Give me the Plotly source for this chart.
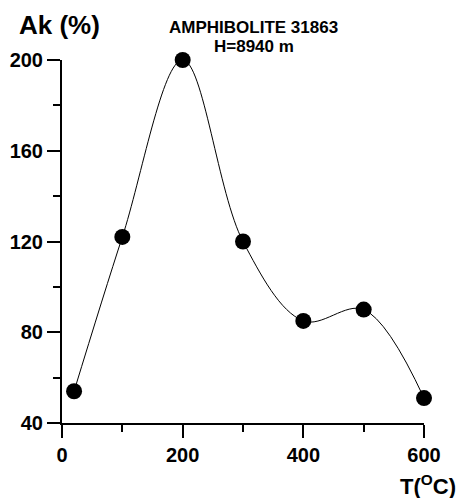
import plotly.graph_objects as go

temps = [20, 100, 200, 300, 400, 500, 600]
ak_values = [54, 122, 200, 120, 85, 90, 51]
x_ticks = [0, 200, 400, 600]
y_ticks = [40, 80, 120, 160, 200]

FONT = "Liberation Sans, Arial, sans-serif"

W, H = 462, 498
L, R, T, B = 62, 38, 60, 75
PW, PH = W - L - R, H - T - B


def px(xs, ys):
    return (xs - L) / PW, 1 - (ys - T) / PH


fig = go.Figure()
fig.add_trace(go.Scatter(
    x=temps, y=ak_values, mode="lines+markers",
    line=dict(shape="spline", smoothing=1.0, color="black", width=1),
    marker=dict(size=16, color="black"),
    cliponaxis=False, showlegend=False,
))

axis_common = dict(
    showgrid=False, zeroline=False, showline=True, linecolor="black", linewidth=2,
    ticks="outside", ticklen=13, tickwidth=2, tickcolor="black", automargin=False,
    tickfont=dict(family=FONT, size=20, color="black", weight="bold"),
)
fig.update_xaxes(range=[0, 600], tickvals=x_ticks,
                 minor=dict(ticks="outside", ticklen=7, tickwidth=2, tickcolor="black", dtick=100),
                 **axis_common)
fig.update_yaxes(range=[40, 200], tickvals=y_ticks,
                 minor=dict(ticks="outside", ticklen=7, tickwidth=2, tickcolor="black", dtick=20),
                 **axis_common)

a1 = px(17, 25)
a2 = px(253, 27)
a2b = px(254, 46)
a3 = px(458, 485)


def ann(text, pos, size, anchor):
    return dict(text=text, x=pos[0], y=pos[1], xref="paper", yref="paper", showarrow=False,
                xanchor=anchor, yanchor="middle",
                font=dict(family=FONT, size=size, color="black"))


fig.update_layout(
    width=W, height=H,
    margin=dict(l=L, r=R, t=T, b=B),
    plot_bgcolor="white", paper_bgcolor="white",
    annotations=[
        ann("<b>Ak (%)</b>", a1, 26, "left"),
        ann("<b>AMPHIBOLITE 31863</b>", a2, 17, "center"),
        ann("<b>H=8940 m</b>", a2b, 17, "center"),
        ann("<b>T(<sup>O</sup>C)</b>", a3, 22, "right"),
    ],
)

fig.write_html("out.html", config={"displayModeBar": False},
               post_script="document.body.style.margin='0';")
